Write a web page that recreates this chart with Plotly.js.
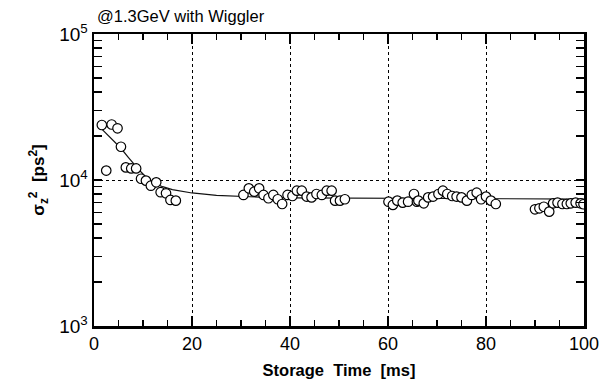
<!DOCTYPE html>
<html>
<head>
<meta charset="utf-8">
<script src="https://cdn.plot.ly/plotly-3.0.1.min.js"></script>
<style>html,body{margin:0;padding:0;background:#fff;}#chart{width:600px;height:386px;}</style>
</head>
<body>
<div id="chart"></div>
<script>
// Measured bunch length squared (ps^2) vs storage time (ms)
var timeMs = [1.6, 2.5, 3.6, 4.8, 5.5, 6.5, 7.6, 8.6, 9.6, 10.6, 11.6, 12.7, 13.6, 14.7, 15.6, 16.7,
  30.5, 31.6, 32.7, 33.7, 34.6, 35.6, 36.6, 37.5, 38.4, 39.5, 40.5, 41.4, 42.4, 43.4, 44.4, 45.4, 46.5, 47.5, 48.5, 49.2, 50.2, 51.2,
  60.1, 61.0, 61.9, 63.0, 64.1, 65.3, 65.9, 66.2, 67.3, 68.2, 69.2, 70.3, 71.2, 72.1, 73.1, 74.0, 75.0, 76.1, 77.1, 78.1, 79.0, 80.0, 81.0, 82.0,
  90.0, 90.9, 91.8, 92.9, 93.7, 94.6, 95.6, 96.5, 97.3, 98.3, 99.3, 99.9];
var sigmaSq = [23800, 11600, 24000, 22600, 16900, 12200, 12000, 12000, 10200, 9900, 9140, 9640, 8250, 8110, 7300, 7220,
  7900, 8770, 8320, 8770, 7900, 7500, 7900, 7380, 6850, 7900, 7770, 8450, 8450, 7700, 7600, 8020, 7900, 8450, 8450, 7220, 7220, 7380,
  7100, 6750, 7220, 7000, 7100, 8020, 7100, 7220, 6920, 7600, 7700, 8020, 8450, 8020, 7770, 7700, 7600, 7220, 7900, 8190, 7380, 7700, 7220, 6850,
  6300, 6400, 6560, 6070, 6920, 7000, 6850, 6850, 6920, 7000, 6920, 6820];
// Fitted curve
var fitTime = [1.5, 3, 4, 5.5, 7, 8, 9, 10, 11, 12, 14, 16, 18, 20, 25, 30, 35, 40, 60, 80, 100];
var fitSigmaSq = [22500, 20000, 18500, 16500, 14300, 13000, 11900, 11000, 10100, 9600, 9000, 8600, 8350, 8150, 7850, 7700, 7600, 7550, 7500, 7450, 7400];
var yTickVals = [1000, 10000, 100000];
var yTickText = ['10<sup>3</sup>', '10<sup>4</sup>', '10<sup>5</sup>'];
var yMinorVals = [2000,3000,4000,5000,6000,7000,8000,9000,20000,30000,40000,50000,60000,70000,80000,90000];
var xTickVals = [0, 20, 40, 60, 80, 100];
var xMinorVals = [5,10,15,25,30,35,45,50,55,65,70,75,85,90,95];

var font = "Liberation Sans, Arial, sans-serif";
var data = [
  {x: fitTime, y: fitSigmaSq, type: 'scatter', mode: 'lines', line: {color: '#111', width: 1.2}, hoverinfo: 'skip'},
  {x: timeMs, y: sigmaSq, type: 'scatter', mode: 'markers',
   marker: {symbol: 'circle', size: 9.5, color: '#fff', line: {color: '#000', width: 1.2}}}
];
var layout = {
  width: 600, height: 386,
  margin: {l: 94, r: 16, t: 34, b: 60},
  paper_bgcolor: '#fff', plot_bgcolor: '#fff',
  showlegend: false,
  font: {family: font, color: '#000'},
  title: {text: '@1.3GeV with Wiggler', x: 97/600, xanchor: 'left', xref: 'container', y: 1 - 16/386, yanchor: 'middle', yref: 'container',
          font: {size: 16.5, family: font, color: '#000'}},
  xaxis: {
    range: [0, 100], tickvals: xTickVals, ticks: 'inside', ticklen: 10, tickwidth: 1.5, tickcolor: '#000',
    showline: true, linewidth: 2.5, linecolor: '#000', mirror: 'ticks',
    showgrid: true, gridcolor: '#000', griddash: 'dot', gridwidth: 1,
    zeroline: false,
    minor: {tickvals: xMinorVals, ticks: 'inside', ticklen: 6, tickwidth: 1.5, tickcolor: '#000', showgrid: false},
    tickfont: {size: 18, family: font, color: '#000'},
    title: {text: '<b>Storage  Time  [ms]</b>', font: {size: 16.5, family: font, color: '#000'}, standoff: 12}
  },
  yaxis: {
    type: 'log', range: [3, 5], tickvals: yTickVals, ticktext: yTickText, ticks: 'inside', ticklen: 8, tickwidth: 1.5, tickcolor: '#000',
    showline: true, linewidth: 2.5, linecolor: '#000', mirror: 'ticks',
    showgrid: true, gridcolor: '#000', griddash: 'dot', gridwidth: 1,
    zeroline: false,
    minor: {tickvals: yMinorVals, ticks: 'inside', ticklen: 8, tickwidth: 1.5, tickcolor: '#000', showgrid: false},
    tickfont: {size: 19, family: font, color: '#000'},
    title: {text: '<b>σ<sub>z</sub><sup>2</sup>  [ps<sup>2</sup>]</b>', font: {size: 17, family: font, color: '#000'}, standoff: 10}
  }
};
Plotly.newPlot('chart', data, layout, {staticPlot: true, displayModeBar: false});
</script>
</body>
</html>
